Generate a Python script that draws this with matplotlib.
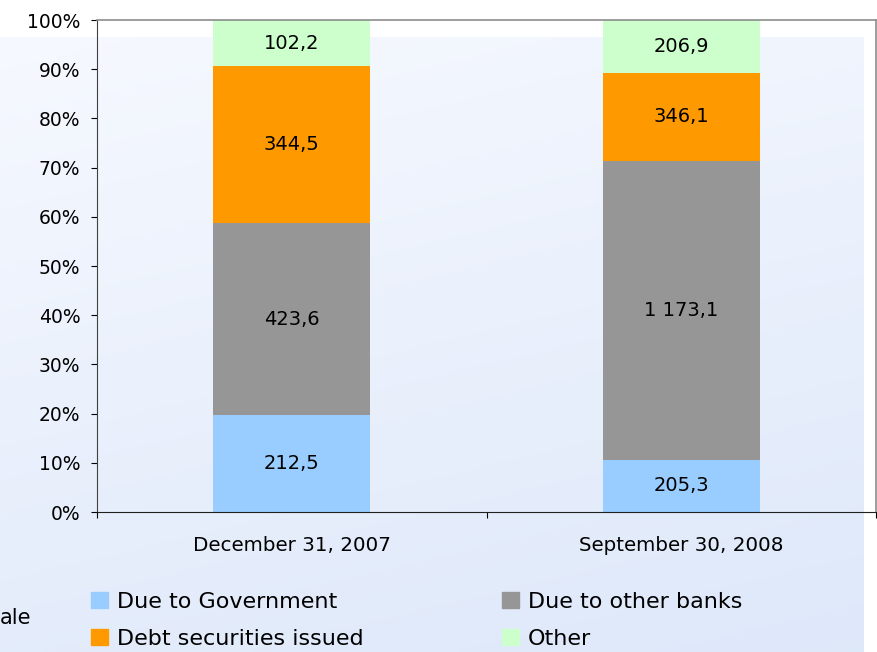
import numpy as np
import matplotlib.pyplot as plt
from matplotlib.patches import Patch

# balances, UAH bn
dates = ['December 31, 2007', 'September 30, 2008']
series = ['Due to Government', 'Due to other banks', 'Debt securities issued', 'Other']
gov = [212.5, 205.3]
banks = [423.6, 1173.1]
debt = [344.5, 346.1]
other = [102.2, 206.9]
labels = [['212,5', '205,3'], ['423,6', '1 173,1'], ['344,5', '346,1'], ['102,2', '206,9']]
colors = ['#99ccff', '#969696', '#ff9900', '#ccffcc']

W, H = 877, 652
fig = plt.figure(figsize=(W / 100, H / 100), dpi=100)

# slide background: soft blue gradient
bg = fig.add_axes([0, 0, 864 / W, (H - 37) / H], zorder=0)
yy, xx = np.mgrid[0:1:200j, 0:1:200j]
t = np.clip(0.75 * yy + 0.25 * xx, 0, 1)
top = np.array([0.965, 0.975, 0.998])
bot = np.array([0.870, 0.910, 0.980])
img = top[None, None, :] * (1 - t[..., None]) + bot[None, None, :] * t[..., None]
bg.imshow(img, aspect='auto', extent=[0, 1, 0, 1])
bg.axis('off')

ax = fig.add_axes([97 / W, (H - 512) / H, 779 / W, 492 / H], zorder=1)
ax.patch.set_alpha(0)

vals = np.array([gov, banks, debt, other])
pct = vals / vals.sum(axis=0) * 100
x = np.arange(len(dates))
bottom = np.zeros(len(dates))
for i in range(len(series)):
    ax.bar(x, pct[i], 0.403, bottom=bottom, color=colors[i], label=series[i])
    for j in range(len(dates)):
        ax.text(x[j], bottom[j] + pct[i][j] / 2, labels[i][j], ha='center', va='center', fontsize=14)
    bottom += pct[i]

ax.set_xlim(-0.5, 1.5)
ax.set_ylim(0, 100)
ax.set_yticks(np.arange(0, 101, 10))
ax.set_yticklabels([f'{v}%' for v in range(0, 101, 10)], fontsize=13.5)
ax.set_xticks([-0.5, 0.5, 1.5])
ax.set_xticklabels([])
ax.set_xticks(x, minor=True)
ax.set_xticklabels(dates, minor=True, fontsize=14.3)
ax.tick_params(axis='x', which='minor', length=0, pad=17)
ax.tick_params(axis='x', which='major', length=4, direction='out')
ax.tick_params(axis='y', length=4, direction='out', pad=8)
for s in ['top', 'right']:
    ax.spines[s].set_color('#8c8c8c')
    ax.spines[s].set_linewidth(1.2)
ax.spines['left'].set_color('#404040')
ax.spines['bottom'].set_color('#202020')

handles = [Patch(color=colors[k]) for k in [0, 2, 1, 3]]
names = [series[k] for k in [0, 2, 1, 3]]
fig.legend(handles, names, ncol=2, loc='upper left', bbox_to_anchor=(91 / W, 1 - 592 / H),
           frameon=False, fontsize=16, handlelength=0.75, handleheight=0.75,
           handletextpad=0.4, columnspacing=6.25, labelspacing=0.75,
           borderpad=0, borderaxespad=0)

fig.text(0, 1 - 618 / H, 'ale', fontsize=15, va='center', ha='left')

fig.savefig('out.png', dpi=100)
